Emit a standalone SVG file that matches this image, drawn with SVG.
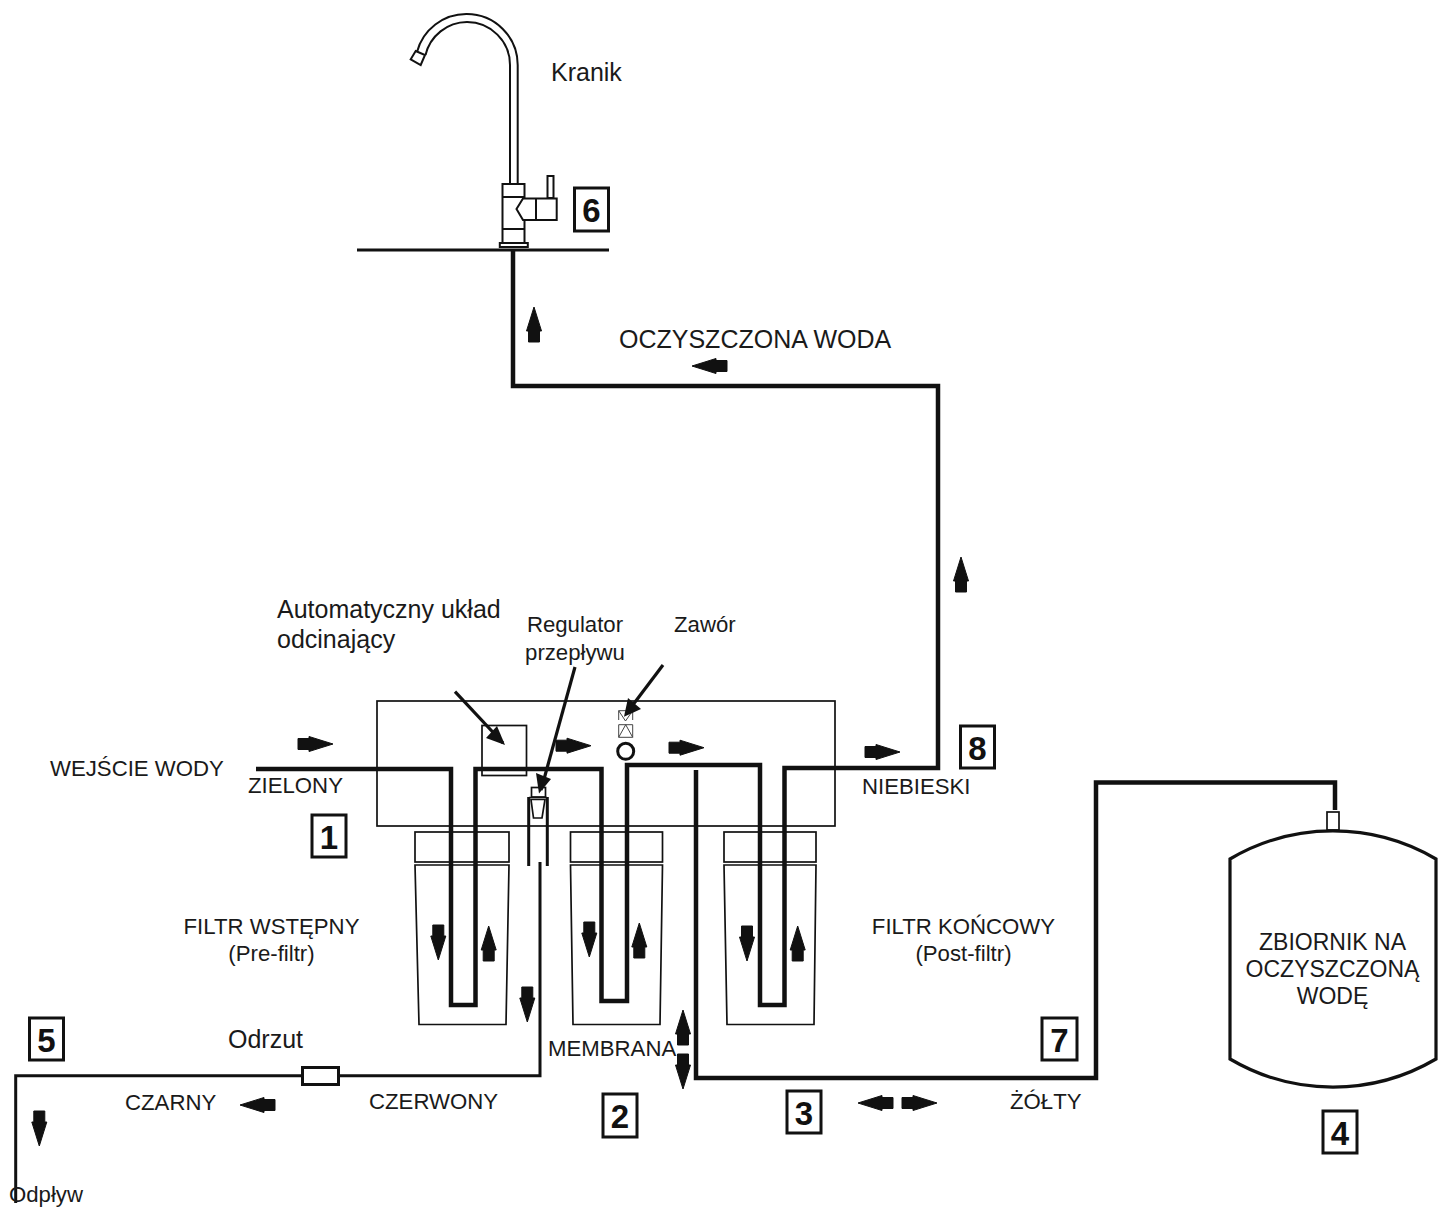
<svg xmlns="http://www.w3.org/2000/svg" xmlns:xlink="http://www.w3.org/1999/xlink" width="1445" height="1207" viewBox="0 0 1445 1207">
<style>
text{font-family:"Liberation Sans",Arial,sans-serif;fill:#1a1a1a}
.s{fill:none;stroke:#111;stroke-width:1.7}
.f{fill:none;stroke:#111;stroke-width:2}
.w{fill:#fff;stroke:#111;stroke-width:2}
.p{fill:none;stroke:#111;stroke-width:4.5;stroke-linejoin:miter}
.t{fill:none;stroke:#111;stroke-width:3;stroke-linejoin:miter}
.ln{stroke:#111;stroke-width:3.2;fill:none}
.h{fill:#111}
.b{fill:#fff;stroke:#111;stroke-width:3}
.n{font-weight:bold;font-size:33px;text-anchor:middle;fill:#111}
.l{font-size:22.2px}
.c{text-anchor:middle}
</style>
<defs>
<path id="a" d="M0,-5.5 L11,-5.5 L11,-7.5 L35,0 L11,7.5 L11,5.5 L0,5.5 Z" fill="#111" stroke="#111" stroke-width="1" stroke-linejoin="round"/>
</defs>
<rect width="1445" height="1207" fill="#fff"/>
<g id="housing"><rect class="s" x="377" y="701" width="458" height="125"/></g>
<g id="filter-1"><rect class="s" x="415" y="832" width="94" height="30"/><path class="s" d="M415,865H509L506,1024.5H419Z"/></g>
<g id="filter-2"><rect class="s" x="570.5" y="832" width="92" height="30"/><path class="s" d="M570.500,865H662.500L660,1024.5H573Z"/></g>
<g id="filter-3"><rect class="s" x="724" y="832" width="92" height="30"/><path class="s" d="M724,865H816L814,1024.5H727Z"/></g>
<g id="cutoff"><rect class="s" x="482" y="725.500" width="44.500" height="50"/></g>
<g id="regulator"><rect class="s" x="531.500" y="787.500" width="14" height="9.500"/><path class="s" d="M529,797.500H547M531,799.500H545L542,818H533.500Z"/><path class="t" d="M528.700,797V866M547.300,797V866"/></g>
<g id="valve"><path d="M618.700,720V710.700H632.700V720M618.700,710.700L625.500,721L632.700,710.700" fill="none" stroke="#444"/><path d="M618.700,737.300H632.700V724.700H618.700ZM618.700,737.300L625.700,724.700L632.700,737.300" fill="none" stroke="#444"/><circle cx="625.700" cy="751.300" r="8" fill="#fff" stroke="#111" stroke-width="3"/></g>
<g id="faucet">
<path class="f" d="M517.700,65A51,51 0 0 0 466.700,14A51,51 0 0 0 417,52M510,65A43,43 0 0 0 467,22A43,43 0 0 0 425.500,55M510,65V184M517.700,65V184"/>
<path class="f" d="M415.700,51L425,55L420.700,65L410.700,59.300Z"/>
<rect class="f" x="502.500" y="184" width="22" height="59"/>
<path class="f" d="M502.500,197H524.500M502.500,229H524.500"/>
<rect class="f" x="499.800" y="243" width="28" height="4"/>
<path class="w" d="M523,198.500H556.700V220H523L516.500,209Z" stroke-linejoin="miter"/>
<path class="f" d="M536,198.500V220"/>
<rect class="f" x="547.500" y="176" width="6" height="22"/>
<path d="M357,250H609" stroke="#111" stroke-width="3"/>
</g>
<g id="connectors">
<path class="p" d="M513,250V386H938V768H784.500V1005H760V765H627V1001H601.500V769H475.500V1005H451V769H256"/>
<path class="p" d="M696,770V1078H1096V782.500H1335V810"/>
<path class="t" d="M540,862V1075.700H338M302,1075.700H15.700V1203"/>
<rect class="b" x="302.500" y="1067.500" width="36" height="17"/>
<path class="ln" d="M455,691.700L503,743"/><path class="h" d="M505,745L486,738L497,726Z"/>
<path class="ln" d="M575,667L541,790"/><path class="h" d="M539,793.500L536,773L551,779Z"/>
<path class="ln" d="M663,665L626,714"/><path class="h" d="M624,716.700L628,698L641,709Z"/>
</g>
<g id="flow-arrows">
<use xlink:href="#a" href="#a" transform="translate(298,744)"/>
<use xlink:href="#a" href="#a" transform="translate(556,745.700)"/>
<use xlink:href="#a" href="#a" transform="translate(669,747.700)"/>
<use xlink:href="#a" href="#a" transform="translate(865,752)"/>
<use xlink:href="#a" href="#a" transform="translate(902,1103)"/>
<use xlink:href="#a" href="#a" transform="translate(727,366) rotate(180)"/>
<use xlink:href="#a" href="#a" transform="translate(275,1105) rotate(180)"/>
<use xlink:href="#a" href="#a" transform="translate(893,1103) rotate(180)"/>
<use xlink:href="#a" href="#a" transform="translate(534,342) rotate(-90)"/>
<use xlink:href="#a" href="#a" transform="translate(961,592) rotate(-90)"/>
<use xlink:href="#a" href="#a" transform="translate(488.700,961) rotate(-90)"/>
<use xlink:href="#a" href="#a" transform="translate(639.300,958) rotate(-90)"/>
<use xlink:href="#a" href="#a" transform="translate(797.700,961) rotate(-90)"/>
<use xlink:href="#a" href="#a" transform="translate(683,1045) rotate(-90)"/>
<use xlink:href="#a" href="#a" transform="translate(438.300,925) rotate(90)"/>
<use xlink:href="#a" href="#a" transform="translate(589.300,922) rotate(90)"/>
<use xlink:href="#a" href="#a" transform="translate(747,926) rotate(90)"/>
<use xlink:href="#a" href="#a" transform="translate(527.300,987) rotate(90)"/>
<use xlink:href="#a" href="#a" transform="translate(683,1054) rotate(90)"/>
<use xlink:href="#a" href="#a" transform="translate(39.300,1111) rotate(90)"/>
</g>
<g id="tank">
<rect class="s" x="1327" y="812" width="12" height="18"/>
<path d="M1230,859A203,203 0 0 1 1436,859V1059A203,203 0 0 1 1230,1059Z" fill="none" stroke="#111" stroke-width="3.200"/>
<text class="c" font-size="23" x="1332.500" y="950">ZBIORNIK NA</text>
<text class="c" font-size="23" x="1332.500" y="977">OCZYSZCZONĄ</text>
<text class="c" font-size="23" x="1332.500" y="1004">WODĘ</text>
</g>
<g id="badge-1"><rect class="b" x="312" y="815" width="34" height="42"/><text class="n" x="329" y="848.500">1</text></g>
<g id="badge-2"><rect class="b" x="603" y="1094" width="34" height="43"/><text class="n" x="620" y="1127.500">2</text></g>
<g id="badge-3"><rect class="b" x="787" y="1091" width="34" height="42"/><text class="n" x="804" y="1124.500">3</text></g>
<g id="badge-4"><rect class="b" x="1323" y="1111" width="34" height="42"/><text class="n" x="1340" y="1144.500">4</text></g>
<g id="badge-5"><rect class="b" x="29.500" y="1018" width="34" height="42"/><text class="n" x="46.500" y="1051.500">5</text></g>
<g id="badge-6"><rect class="b" x="574.500" y="188" width="34" height="43"/><text class="n" x="591.500" y="221.500">6</text></g>
<g id="badge-7"><rect class="b" x="1042" y="1018" width="35" height="42"/><text class="n" x="1059.500" y="1051.500">7</text></g>
<g id="badge-8"><rect class="b" x="960.500" y="726" width="34" height="42"/><text class="n" x="977.500" y="759.500">8</text></g>
<g id="labels">
<text x="551" y="81" font-size="25">Kranik</text>
<text x="619" y="348" font-size="25">OCZYSZCZONA WODA</text>
<text x="277" y="618" font-size="25">Automatyczny układ</text>
<text x="277" y="648" font-size="25">odcinający</text>
<text class="l c" x="575" y="632">Regulator</text>
<text class="l c" x="575" y="660">przepływu</text>
<text x="674" y="632" class="l">Zawór</text>
<text x="50" y="776" class="l">WEJŚCIE WODY</text>
<text x="248" y="793" class="l">ZIELONY</text>
<text x="862" y="794" class="l">NIEBIESKI</text>
<text class="l c" x="271.500" y="934">FILTR WSTĘPNY</text>
<text class="l c" x="271.500" y="961">(Pre-filtr)</text>
<text class="l c" x="963.500" y="934">FILTR KOŃCOWY</text>
<text class="l c" x="963.500" y="961">(Post-filtr)</text>
<text x="548" y="1055.500" class="l">MEMBRANA</text>
<text x="228" y="1048" font-size="25">Odrzut</text>
<text x="125" y="1110" class="l">CZARNY</text>
<text x="369" y="1109" class="l">CZERWONY</text>
<text x="1010" y="1109" class="l">ŻÓŁTY</text>
<text x="9" y="1202" class="l">Odpływ</text>
</g>
</svg>
